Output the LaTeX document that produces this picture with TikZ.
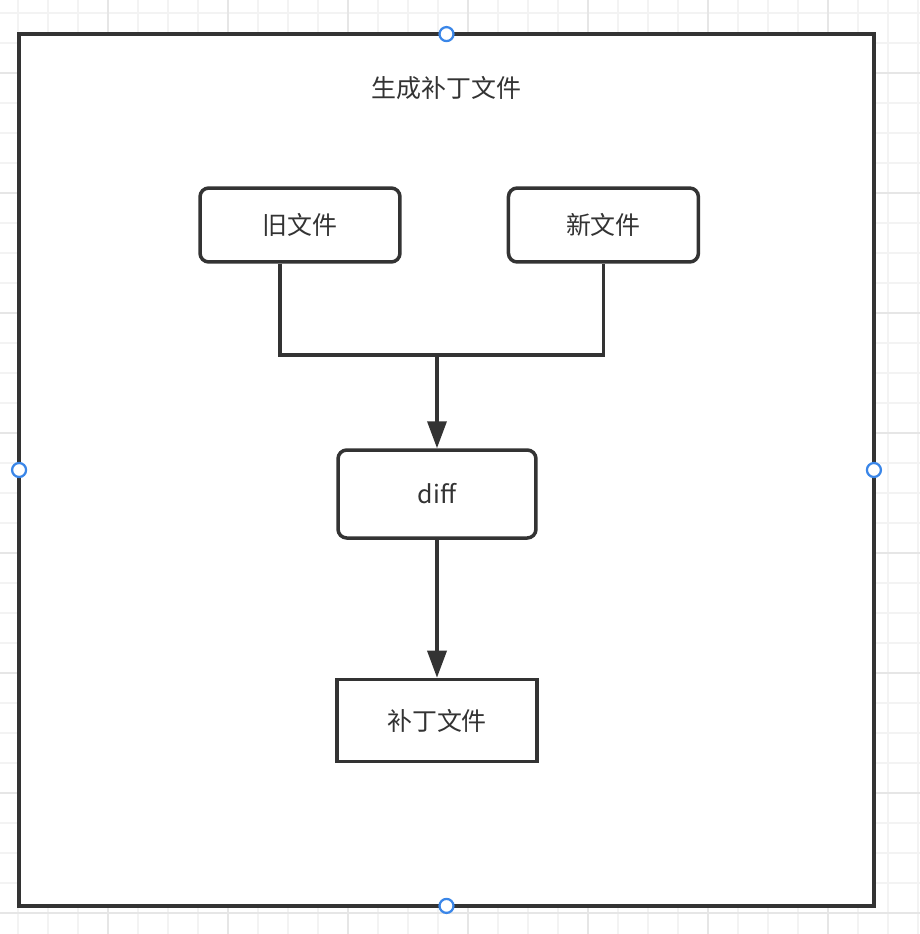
\documentclass[tikz,border=0pt]{standalone}
\usepackage{fontspec}
\setmainfont{Noto Sans CJK SC}
\usepackage{tikz}
\usetikzlibrary{arrows.meta,positioning,calc}
\definecolor{ink}{HTML}{333333}
\definecolor{handleblue}{HTML}{3A86E8}
\definecolor{gridminor}{HTML}{F3F3F3}
\definecolor{gridmajor}{HTML}{E6E6E6}
\tikzset{
  frame/.style={rectangle, draw=ink, fill=white, line width=0.07cm, outer sep=0pt,
                minimum width=17.1cm, minimum height=17.44cm},
  filebox/.style={rectangle, rounded corners=5pt, draw=ink, fill=white,
                  line width=0.07cm, minimum height=1.48cm, align=center,
                  text=ink, font=\fontsize{14.2pt}{17pt}\selectfont},
  result/.style={rectangle, draw=ink, fill=white, line width=0.07cm,
                 minimum width=4cm, minimum height=1.64cm, align=center,
                 text=ink, font=\fontsize{14.2pt}{17pt}\selectfont},
  handle/.style={circle, draw=handleblue, fill=white, line width=0.045cm,
                 minimum size=0.28cm, inner sep=0pt},
  link/.style={draw=ink, line width=0.07cm},
  arrow/.style={link, -{Triangle[length=0.54cm,width=0.38cm]}}
}

\begin{document}
\begin{tikzpicture}[x=0.02cm, y=-0.02cm]
\useasboundingbox (0,0) rectangle (920,934);

% --- Background grid ---
\begin{scope}
  \clip (0,0) rectangle (920,934);
  \foreach \gx in {18,48,...,918} \draw[gridminor, line width=0.03cm] (\gx,0) -- (\gx,934);
  \foreach \gy in {13,43,...,933} \draw[gridminor, line width=0.03cm] (0,\gy) -- (920,\gy);
  \foreach \gx in {108,228,...,828} \draw[gridmajor, line width=0.03cm] (\gx,0) -- (\gx,934);
  \foreach \gy in {73,193,...,913} \draw[gridmajor, line width=0.03cm] (0,\gy) -- (920,\gy);
\end{scope}

% --- Container ---
\node[frame] (frame) at (446.5,470) {};
\node[text=ink, font=\fontsize{14.2pt}{17pt}\selectfont, below=0.73cm of frame.north]
  (title) {生成补丁文件};

% --- Inputs ---
\node[filebox, minimum width=4cm] (old) at (300,225) {旧文件};
\node[filebox, minimum width=3.8cm, right=2.1cm of old] (new) {新文件};

% --- diff and output ---
\node[filebox, minimum width=3.96cm, minimum height=1.76cm] (diff) at (437,494) {diff};
\node[result, below=2.76cm of diff] (patch) {补丁文件};

% --- Connectors ---
\coordinate (join) at (437,355);
\draw[link] ([xshift=-0.4cm]old.south) |- (join) -| (new.south);
\draw[arrow] (join) -- (diff);
\draw[arrow] (diff) -- (patch);

% --- Selection handles ---
\node[handle] (hn) at (frame.north) {};
\node[handle] (hs) at (frame.south) {};
\node[handle] (hw) at (frame.west) {};
\node[handle] (he) at (frame.east) {};

\end{tikzpicture}
\end{document}
